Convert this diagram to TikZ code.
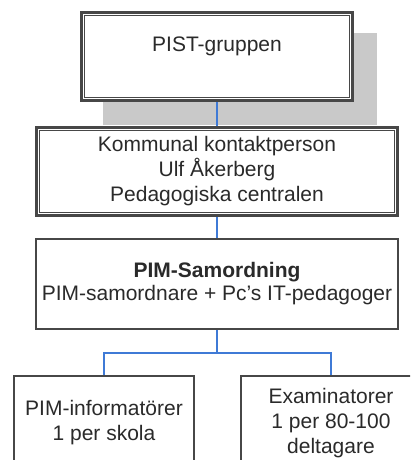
\documentclass[tikz,border=0pt]{standalone}
\usepackage{fontspec}
\setmainfont{Liberation Sans}
\definecolor{boxgray}{HTML}{474747}
\definecolor{shadegray}{HTML}{C9C9C9}
\definecolor{linkblue}{HTML}{3F7AD6}
\definecolor{textgray}{HTML}{2A2A2A}

\begin{document}
\begin{tikzpicture}[x=1pt,y=-1pt,
	box/.style={draw=boxgray,line width=2pt,fill=white,inner sep=0pt,align=center,text=textgray,font=\fontsize{21}{25}\selectfont},
	dbox/.style={box,line width=2.8pt},
	inbox/.style={draw=boxgray,line width=1.1pt},
	link/.style={draw=linkblue,line width=1.4pt}]
		\useasboundingbox (0,0) rectangle (410,460);
		\clip (0,0) rectangle (410,460);
		\fill[white] (0,0) rectangle (410,460);
		\fill[shadegray] (103,33) rectangle (377,125);
		
		\node[dbox,minimum width=271pt,minimum height=88pt] (pist) at (217,56.5) {PIST-gruppen\\ ~};
		\node[dbox,minimum width=361pt,minimum height=88pt] (kontakt) at (217,171.5) {Kommunal kontaktperson\\Ulf Åkerberg\\Pedagogiska centralen};
		\node[box,minimum width=362pt,minimum height=90pt,font=\fontsize{21}{23}\selectfont] (samordning) at (217,284) {\textbf{PIM-Samordning}\\PIM-samordnare + Pc’s IT-pedagoger};
		\node[box,minimum width=180pt,minimum height=94pt] (info) at (104,423) {PIM-informatörer\\1 per skola};
		\node[box,minimum width=180pt,minimum height=94pt] (exam) at (331,423) {Examinatorer\\1 per 80-100\\deltagare};
		
		\draw[inbox] ([xshift=4pt,yshift=-4pt]pist.north west) rectangle ([xshift=-4pt,yshift=4pt]pist.south east);
		\draw[inbox] ([xshift=4pt,yshift=-4pt]kontakt.north west) rectangle ([xshift=-4pt,yshift=4pt]kontakt.south east);
		
		\coordinate (split) at (217,353);
		\draw[link] (pist.south) -- (kontakt.north);
		\draw[link] (kontakt.south) -- (samordning.north);
		\draw[link] (samordning.south) -- (split);
		\draw[link] (split) -| (info.north);
		\draw[link] (split) -| (exam.north);
\end{tikzpicture}
\end{document}
